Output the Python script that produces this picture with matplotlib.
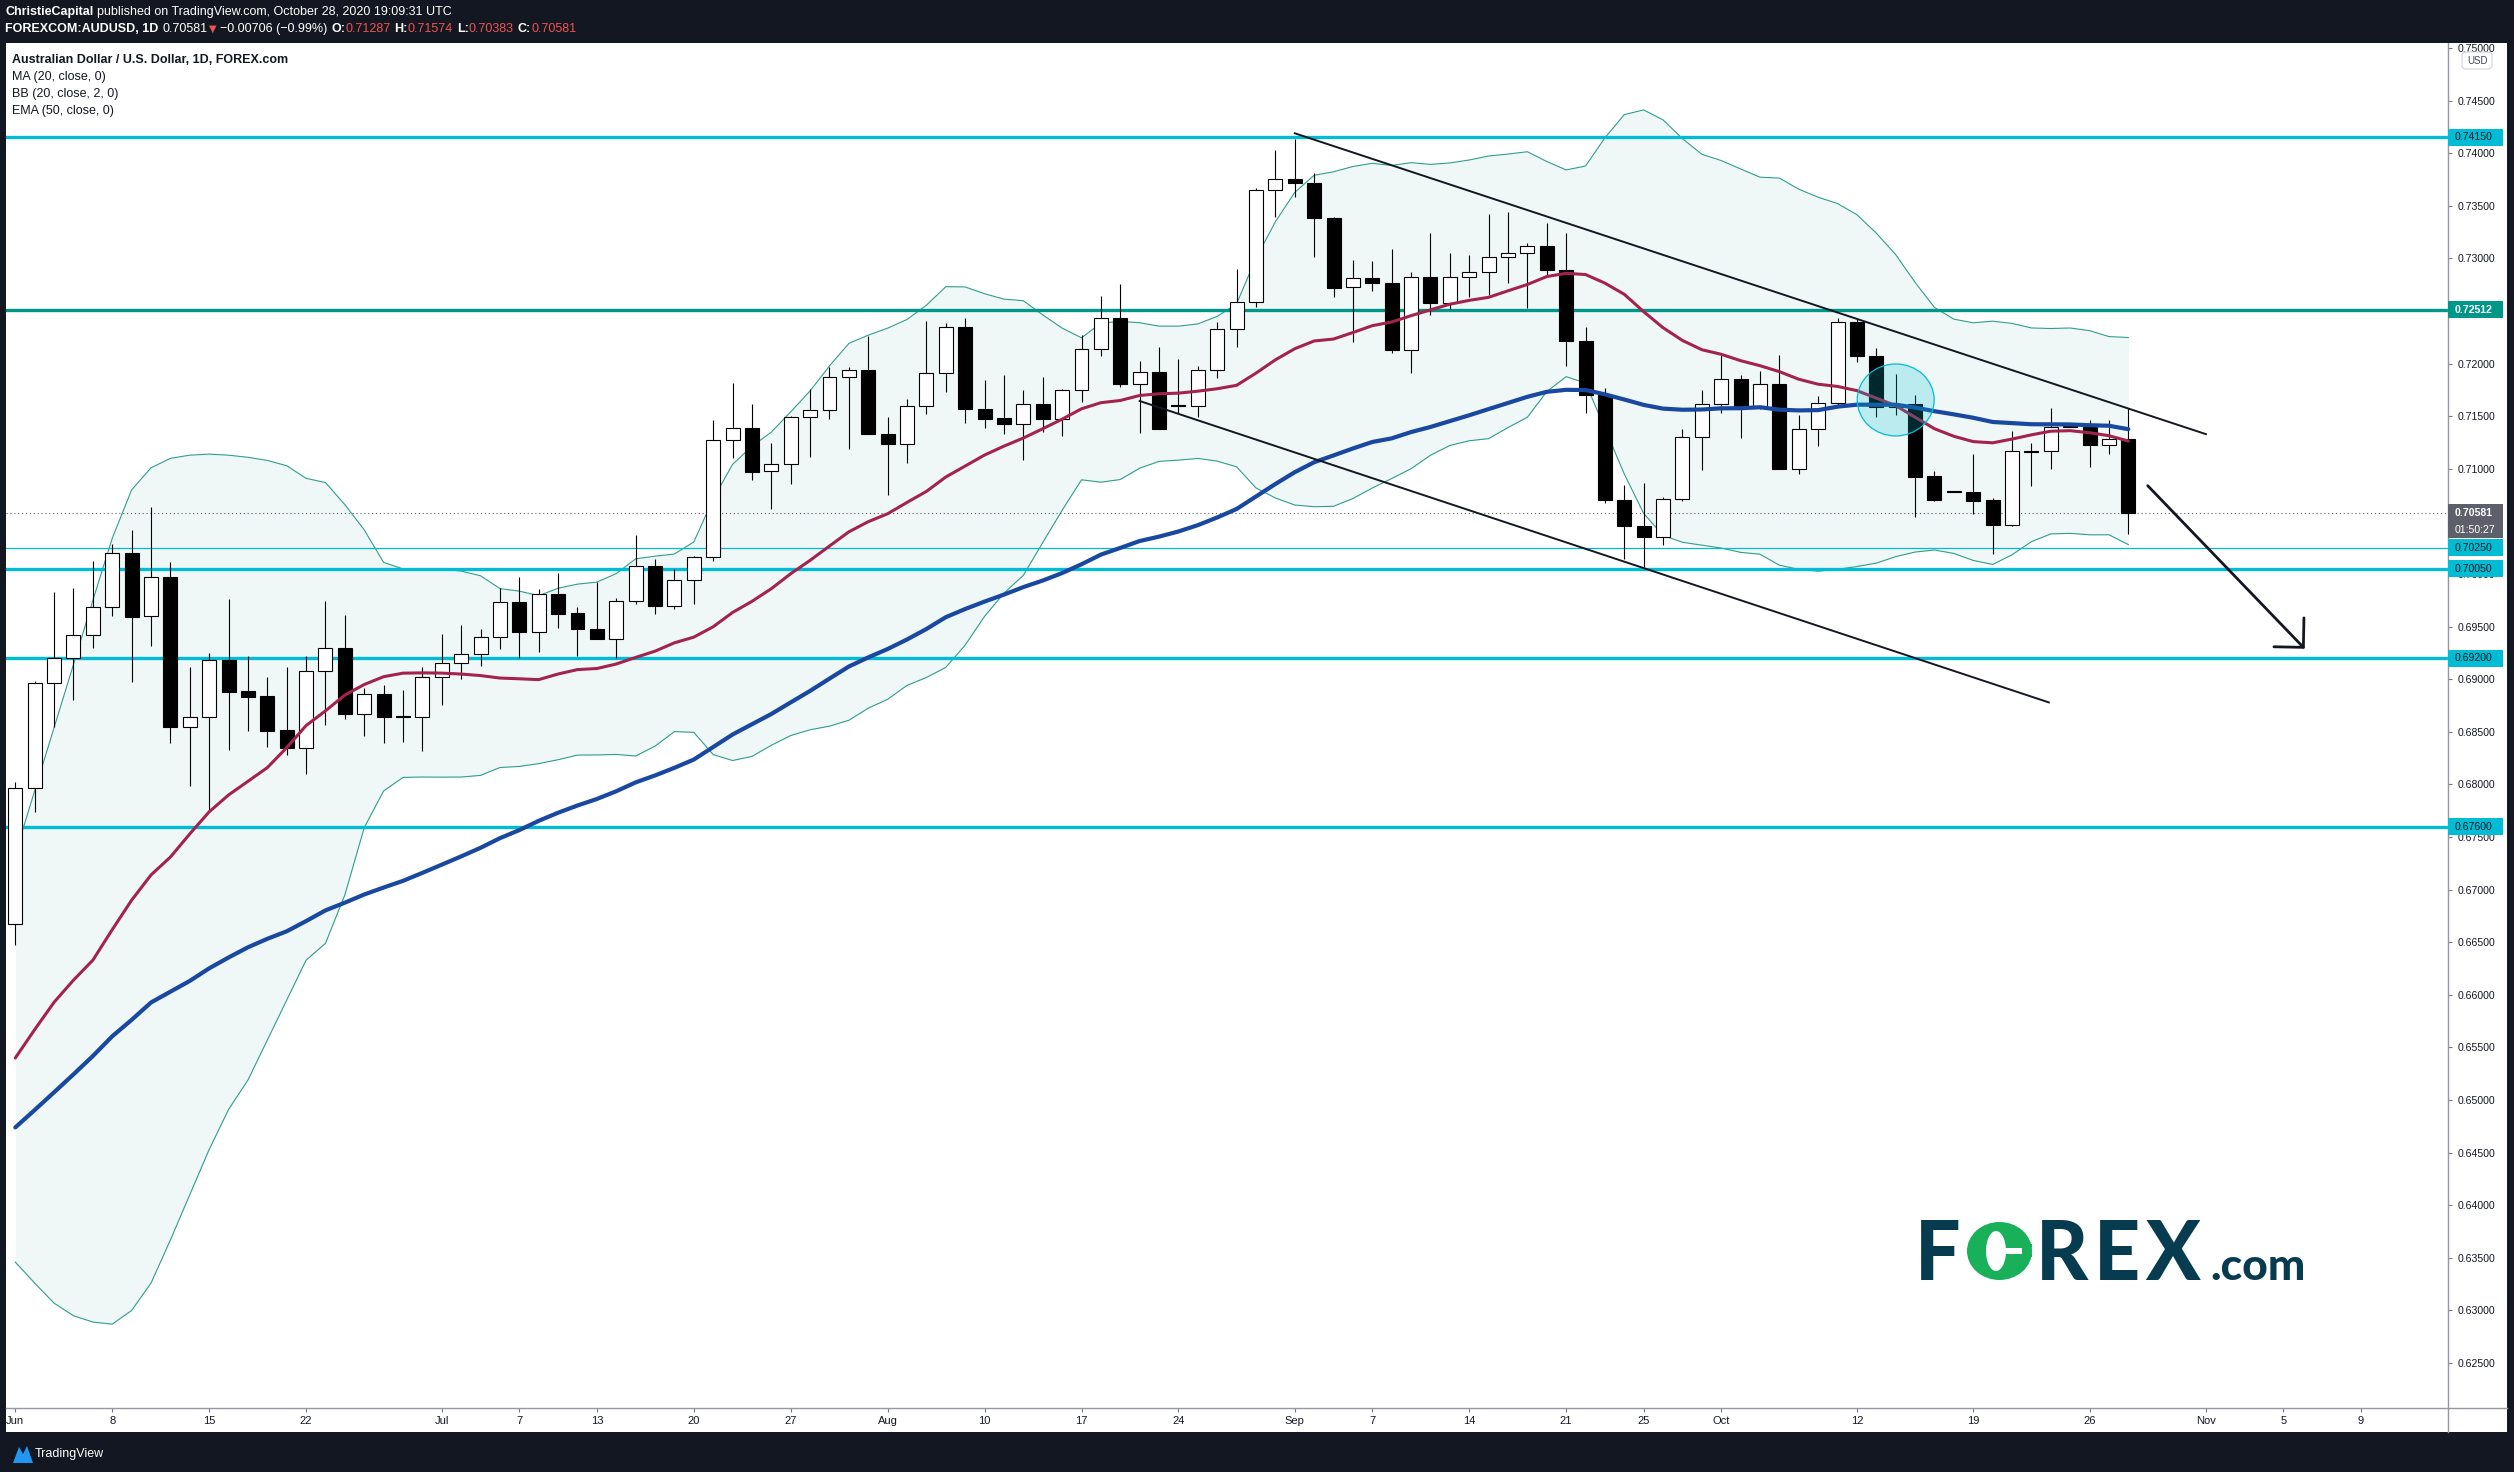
import matplotlib
matplotlib.use("Agg")
import matplotlib.pyplot as plt
from matplotlib import transforms
from matplotlib.patches import Rectangle, Ellipse, FancyBboxPatch, Polygon
from matplotlib.lines import Line2D
import numpy as np
import pandas as pd

W, H, DPI = 2514, 1472, 100
NARROW = ['Liberation Sans Narrow', 'DejaVu Sans Condensed', 'Liberation Sans', 'DejaVu Sans']
AXFONT = ['Liberation Sans', 'DejaVu Sans']
DARK = '#131722'

# ---------------- data (AUD/USD daily, Jun 1 - Oct 28 2020) ----------------
opens = [0.6667, 0.6797, 0.6896, 0.6920, 0.6942, 0.6969, 0.7020, 0.6960, 0.6997, 0.6855,
         0.6864, 0.6918, 0.6889, 0.6884, 0.6852, 0.6835, 0.6908, 0.6930, 0.6867, 0.6886,
         0.6865, 0.6864, 0.6902, 0.6915, 0.6924, 0.6940, 0.6973, 0.6945, 0.6981, 0.6963,
         0.6948, 0.6938, 0.6974, 0.7008, 0.6970, 0.6994, 0.7016, 0.7127, 0.7139, 0.7098,
         0.7105, 0.7149, 0.7156, 0.7187, 0.7194, 0.7133, 0.7124, 0.7160, 0.7191, 0.7235,
         0.7157, 0.7148, 0.7143, 0.7162, 0.7147, 0.7175, 0.7214, 0.7243, 0.7181, 0.7192,
         0.7161, 0.7160, 0.7194, 0.7233, 0.7259, 0.7365, 0.7376, 0.7372, 0.7338, 0.7273,
         0.7281, 0.7277, 0.7213, 0.7282, 0.7258, 0.7282, 0.7287, 0.7301, 0.7305, 0.7312,
         0.7289, 0.7222, 0.7170, 0.7070, 0.7046, 0.7035, 0.7071, 0.7130, 0.7162, 0.7185,
         0.7160, 0.7181, 0.7100, 0.7138, 0.7163, 0.7240, 0.7207, 0.7159, 0.7162, 0.7093,
         0.7079, 0.7078, 0.7070, 0.7047, 0.7117, 0.7117, 0.7141, 0.7140, 0.7123, 0.71287]
highs = [0.6802, 0.6898, 0.6983, 0.6987, 0.7012, 0.7029, 0.7042, 0.7064, 0.7011, 0.6912,
         0.6925, 0.6976, 0.6922, 0.6902, 0.6912, 0.6922, 0.6974, 0.6961, 0.6892, 0.6895,
         0.6890, 0.6912, 0.6943, 0.6952, 0.6948, 0.6987, 0.6997, 0.6986, 0.7001, 0.6969,
         0.6992, 0.6977, 0.7037, 0.7014, 0.7005, 0.7017, 0.7146, 0.7182, 0.7162, 0.7125,
         0.7150, 0.7176, 0.7197, 0.7197, 0.7226, 0.7149, 0.7166, 0.7241, 0.7239, 0.7243,
         0.7184, 0.7189, 0.7175, 0.7187, 0.7176, 0.7227, 0.7264, 0.7276, 0.7203, 0.7216,
         0.7204, 0.7198, 0.7240, 0.7290, 0.7367, 0.7403, 0.7414, 0.7381, 0.7339, 0.7299,
         0.7298, 0.7309, 0.7287, 0.7324, 0.7305, 0.7303, 0.7342, 0.7344, 0.7315, 0.7334,
         0.7324, 0.7235, 0.7177, 0.7085, 0.7087, 0.7073, 0.7138, 0.7175, 0.7208, 0.7189,
         0.7193, 0.7208, 0.7151, 0.7169, 0.7243, 0.7242, 0.7215, 0.7190, 0.7170, 0.7098,
         0.7079, 0.7114, 0.7072, 0.7136, 0.7125, 0.7158, 0.7141, 0.7146, 0.7146, 0.71574]
lows = [0.6647, 0.6774, 0.6855, 0.6880, 0.6930, 0.6960, 0.6897, 0.6932, 0.6839, 0.6799,
        0.6776, 0.6833, 0.6851, 0.6836, 0.6828, 0.6810, 0.6857, 0.6862, 0.6846, 0.6839,
        0.6840, 0.6832, 0.6876, 0.6900, 0.6913, 0.6929, 0.6920, 0.6926, 0.6949, 0.6922,
        0.6938, 0.6920, 0.6972, 0.6962, 0.6967, 0.6972, 0.7012, 0.7110, 0.7089, 0.7062,
        0.7086, 0.7111, 0.7147, 0.7119, 0.7133, 0.7075, 0.7106, 0.7152, 0.7173, 0.7144,
        0.7139, 0.7133, 0.7108, 0.7135, 0.7131, 0.7164, 0.7207, 0.7178, 0.7134, 0.7138,
        0.7153, 0.7149, 0.7186, 0.7216, 0.7254, 0.7339, 0.7358, 0.7301, 0.7263, 0.7221,
        0.7269, 0.7210, 0.7191, 0.7246, 0.7252, 0.7263, 0.7265, 0.7277, 0.7253, 0.7284,
        0.7198, 0.7153, 0.7068, 0.7014, 0.7007, 0.7028, 0.7069, 0.7099, 0.7153, 0.7129,
        0.7157, 0.7100, 0.7095, 0.7122, 0.7159, 0.7202, 0.7149, 0.7151, 0.7054, 0.7069,
        0.7078, 0.7057, 0.7019, 0.7046, 0.7084, 0.7100, 0.7140, 0.7102, 0.7114, 0.70383]
closes = [0.6797, 0.6896, 0.6920, 0.6942, 0.6969, 0.7020, 0.6959, 0.6997, 0.6855, 0.6864,
          0.6918, 0.6888, 0.6883, 0.6851, 0.6835, 0.6908, 0.6930, 0.6867, 0.6886, 0.6864,
          0.6864, 0.6902, 0.6915, 0.6924, 0.6940, 0.6973, 0.6945, 0.6981, 0.6962, 0.6948,
          0.6938, 0.6974, 0.7008, 0.6970, 0.6994, 0.7016, 0.7127, 0.7139, 0.7097, 0.7105,
          0.7149, 0.7156, 0.7187, 0.7194, 0.7133, 0.7124, 0.7160, 0.7191, 0.7235, 0.7157,
          0.7147, 0.7143, 0.7162, 0.7147, 0.7175, 0.7214, 0.7243, 0.7181, 0.7192, 0.7138,
          0.7160, 0.7194, 0.7233, 0.7259, 0.7365, 0.7376, 0.7372, 0.7338, 0.7272, 0.7281,
          0.7277, 0.7213, 0.7282, 0.7258, 0.7282, 0.7287, 0.7301, 0.7305, 0.7312, 0.7289,
          0.7222, 0.7170, 0.7070, 0.7046, 0.7035, 0.7071, 0.7130, 0.7162, 0.7185, 0.7160,
          0.7181, 0.7100, 0.7138, 0.7163, 0.7240, 0.7207, 0.7159, 0.7162, 0.7092, 0.7070,
          0.7078, 0.7069, 0.7047, 0.7117, 0.7116, 0.7140, 0.7140, 0.7123, 0.71287, 0.70581]

# indicator values for the first bars (history before Jun 1 not shown)
ma20_early = [0.6540, 0.6567, 0.6593, 0.6614, 0.6633, 0.6662, 0.6690, 0.6714, 0.6731, 0.6753,
              0.6774, 0.6790, 0.6803, 0.6816, 0.6835, 0.6856, 0.6870, 0.6885, 0.6895]
bb_upper_early = [0.6734, 0.6794, 0.6854, 0.6914, 0.6975, 0.7034, 0.7080, 0.7101, 0.7110, 0.7113,
                  0.7114, 0.7113, 0.7111, 0.7108, 0.7103, 0.7091, 0.7087, 0.7066, 0.7042]
bb_lower_early = [0.6346, 0.6326, 0.6307, 0.6295, 0.6289, 0.6287, 0.6300, 0.6326, 0.6367, 0.6410,
                  0.6453, 0.6491, 0.6519, 0.6557, 0.6595, 0.6633, 0.6649, 0.6695, 0.6759]
ema50_start = 0.6474

time_tick_pos = [0, 5, 10, 15, 22, 26, 30, 35, 40, 45, 50, 55, 60, 66, 70, 75, 80, 84, 88,
                 95, 101, 107, 113, 117, 121]
time_tick_labels = ['Jun', '8', '15', '22', 'Jul', '7', '13', '20', '27', 'Aug', '10', '17', '24',
                    'Sep', '7', '14', '21', '25', 'Oct', '12', '19', '26', 'Nov', '5', '9']
price_ticks = [0.625, 0.630, 0.635, 0.640, 0.645, 0.650, 0.655, 0.660, 0.665, 0.670, 0.675,
               0.680, 0.685, 0.690, 0.695, 0.700, 0.705, 0.710, 0.715, 0.720, 0.725, 0.730,
               0.735, 0.740, 0.745, 0.750]
price_tick_labels = ['%.5f' % v for v in price_ticks]

levels = [0.7415, 0.72512, 0.7025, 0.7005, 0.6920, 0.6760]
level_labels = ['0.74150', '0.72512', '0.70250', '0.70050', '0.69200', '0.67600']
last_price = 0.70581
countdown = '01:50:27'

upper_trend_x = [66.0, 113.0]
upper_trend_y = [0.7419, 0.7133]
lower_trend_x = [58.0, 104.9]
lower_trend_y = [0.71645, 0.6878]
arrow_x = [110.0, 118.1]
arrow_y = [0.7084, 0.6929]
circle_center = (97.0, 0.71655)

# ---------------- figure ----------------
fig = plt.figure(figsize=(W / DPI, H / DPI), dpi=DPI, facecolor=DARK)

def fr(x, y):
    return x / W, 1 - y / H

bg = fig.add_axes([6 / W, 1 - 1432 / H, (2507 - 6) / W, (1432 - 43) / H], zorder=0)
bg.set_facecolor('white')
bg.set_xticks([]); bg.set_yticks([])
for s in bg.spines.values():
    s.set_visible(False)

ax = fig.add_axes([6 / W, 1 - 1408 / H, (2448 - 6) / W, (1408 - 43) / H], zorder=1)
ax.set_facecolor('white')
n = len(closes)
x = np.arange(n)
o = np.array(opens); c = np.array(closes); hi = np.array(highs); lo = np.array(lows)

# indicators
cs = pd.Series(closes)
ma = cs.rolling(20).mean().to_numpy()
sd = cs.rolling(20).std(ddof=0).to_numpy()
upper = ma + 2 * sd
lower = ma - 2 * sd
ma[:19] = ma20_early
upper[:19] = bb_upper_early
lower[:19] = bb_lower_early
alpha = 2 / 51
ema = np.empty(n)
ema[0] = ema50_start
for i in range(1, n):
    ema[i] = alpha * closes[i] + (1 - alpha) * ema[i - 1]

ax.fill_between(x, lower, upper, color='#f0f7f7', lw=0, zorder=0.5)
ax.plot(x, upper, color='#2f9e8c', lw=0.8, zorder=1)
ax.plot(x, lower, color='#2f9e8c', lw=0.8, zorder=1)

lvl_colors = ['#00bcd4', '#009688', '#00bcd4', '#00bcd4', '#00bcd4', '#00bcd4']
lvl_widths = [2.4, 2.4, 0.9, 2.4, 2.4, 2.4]
for lv, col, lw in zip(levels, lvl_colors, lvl_widths):
    ax.axhline(lv, color=col, lw=lw, zorder=2)
ax.axhline(last_price, color='#5d606b', lw=0.8, ls=(0, (1, 2.5)), zorder=1.5)

# candles
up = c >= o
ax.vlines(x, lo, hi, color='black', lw=0.8, zorder=3)
ax.bar(x, np.abs(c - o), bottom=np.minimum(o, c), width=0.72,
       color=np.where(up, 'white', 'black'), edgecolor='black', linewidth=0.8, zorder=3.5)

ax.plot(x, ma, color='#a3234d', lw=2.2, zorder=4, solid_capstyle='round')
ax.plot(x, ema, color='#1848a0', lw=3.0, zorder=4.1, solid_capstyle='round')

ax.add_patch(Ellipse(circle_center, 3.97, 0.00684, facecolor=(0.0, 0.737, 0.831, 0.22),
                     edgecolor='#00bcd4', lw=0.9, zorder=5))
ax.plot(upper_trend_x, upper_trend_y, color=DARK, lw=1.4, zorder=6)
ax.plot(lower_trend_x, lower_trend_y, color=DARK, lw=1.4, zorder=6)
ax.annotate('', xy=(arrow_x[1], arrow_y[1]), xytext=(arrow_x[0], arrow_y[0]),
            arrowprops=dict(arrowstyle='->,head_length=0.5,head_width=0.5', color=DARK, lw=2,
                            mutation_scale=30, shrinkA=0, shrinkB=0), zorder=6)

ax.set_xlim(-0.48, 125.49)
ax.set_ylim(0.62073, 0.75048)
ax.yaxis.tick_right()
ax.set_yticks(price_ticks)
ax.set_yticklabels(price_tick_labels, fontfamily=AXFONT, fontsize=7.6, color=DARK)
ax.tick_params(axis='y', direction='out', length=3, width=0.8, color='#787b86', pad=4)
ax.set_xticks(time_tick_pos)
ax.set_xticklabels(time_tick_labels, fontfamily=NARROW, fontsize=8, color=DARK)
ax.tick_params(axis='x', direction='out', length=3, width=0.8, color='#787b86', pad=3)
for side in ['top', 'left']:
    ax.spines[side].set_visible(False)
for side in ['right', 'bottom']:
    ax.spines[side].set_color('#9598a1')
    ax.spines[side].set_linewidth(1)

# price-axis label boxes
blend = transforms.blended_transform_factory(ax.transAxes, ax.transData)
axw = 2448 - 6
bw = 55 / axw
bh = 17 * (0.75048 - 0.62073) / (1408 - 43)

def price_box(yc, text, face, tcolor, weight='normal'):
    ax.add_patch(Rectangle((1.0, yc - bh / 2), bw, bh, transform=blend, facecolor=face,
                           edgecolor='none', clip_on=False, zorder=20))
    ax.text(1.0 + 7 / axw, yc, text, transform=blend, color=tcolor, fontsize=7.6,
            fontfamily=AXFONT, fontweight=weight, va='center', ha='left', clip_on=False, zorder=21)

for lv, lab, col in zip(levels, level_labels, lvl_colors):
    if col == '#009688':
        price_box(lv, lab, col, 'white', 'bold')
    else:
        price_box(lv, lab, col, DARK)
price_box(last_price, '%.5f' % last_price, '#5d606b', 'white', 'bold')
price_box(last_price - bh, countdown, '#5d606b', 'white')

# extra separators
fig.add_artist(Line2D([2448 / W, 2448 / W], [1 - 1408 / H, 1 - 1432 / H], color='#9598a1', lw=1, zorder=2))
fig.add_artist(Line2D([2448 / W, 2507 / W], [1 - 1408 / H, 1 - 1408 / H], color='#9598a1', lw=1, zorder=2))

# USD box
fig.add_artist(FancyBboxPatch((2462 / W, 1 - 69 / H), 30 / W, 17 / H,
                              boxstyle='round,pad=0,rounding_size=0.002', transform=fig.transFigure,
                              facecolor='white', edgecolor='#d1d4dc', lw=0.8, zorder=8))
fig.text(2477 / W, 1 - 60.5 / H, 'USD', fontsize=7, family=AXFONT, color='#434651',
         ha='center', va='center', zorder=9)

# header
fig.add_artist(Rectangle((0, 1 - 43 / H), 1, 43 / H, transform=fig.transFigure,
                         facecolor=DARK, edgecolor='none', zorder=10))
renderer = fig.canvas.get_renderer()

def seq_text(x0, y, parts, size):
    xx = x0
    for s, col, wt, fam, sz, gap in parts:
        t = fig.text(xx / W, 1 - y / H, s, color=col, fontsize=sz or size, fontweight=wt,
                     family=fam or NARROW, va='center', ha='left', zorder=11)
        bb = t.get_window_extent(renderer)
        xx = bb.x1 + gap

RED = '#ef5350'
SP = 4
seq_text(5, 12, [('ChristieCapital', 'white', 'bold', None, None, SP),
                 ('published on TradingView.com, October 28, 2020 19:09:31 UTC', 'white', 'normal', None, None, 0)], 9)
seq_text(5, 29, [('FOREXCOM:AUDUSD, 1D', 'white', 'bold', None, None, SP),
                 ('0.70581', 'white', 'normal', None, None, 1),
                 ('\u25BC', RED, 'normal', ['DejaVu Sans'], 7, SP),
                 ('\u22120.00706 (\u22120.99%)', 'white', 'normal', None, None, SP),
                 ('O:', 'white', 'bold', None, None, 0),
                 ('0.71287', RED, 'normal', None, None, SP),
                 ('H:', 'white', 'bold', None, None, 0),
                 ('0.71574', RED, 'normal', None, None, SP),
                 ('L:', 'white', 'bold', None, None, 0),
                 ('0.70383', RED, 'normal', None, None, SP),
                 ('C:', 'white', 'bold', None, None, 0),
                 ('0.70581', RED, 'normal', None, None, 0)], 9)

# legend inside chart
fig.text(12 / W, 1 - 60 / H, 'Australian Dollar / U.S. Dollar, 1D, FOREX.com', fontsize=9,
         fontweight='bold', family=NARROW, color=DARK, va='center', ha='left', zorder=12)
for yy, s in zip([77, 94, 111], ['MA (20, close, 0)', 'BB (20, close, 2, 0)', 'EMA (50, close, 0)']):
    fig.text(12 / W, 1 - yy / H, s, fontsize=9, family=NARROW, color=DARK,
             va='center', ha='left', zorder=12)

# TradingView footer
fig.add_artist(Polygon([fr(13, 1463), fr(19, 1447), fr(23, 1454), fr(27, 1446), fr(33, 1463)],
                       closed=True, transform=fig.transFigure, facecolor='#2196f3',
                       edgecolor='none', zorder=12))
fig.text(35 / W, 1 - 1454 / H, 'TradingView', fontsize=9, family=NARROW, color='white',
         va='center', ha='left', zorder=12)

# FOREX.com logo
NAVY = '#073b4f'
GREEN = '#18b15a'
LOGO = ['Lato', 'Roboto', 'DejaVu Sans']
base = 1 - 1280 / H
for s, xx, col in [('F', 1915, NAVY), ('R', 2036, NAVY), ('E', 2094, NAVY), ('X', 2145, NAVY)]:
    fig.text(xx / W, base, s, fontsize=58, fontweight='black', family=LOGO, color=col,
             va='baseline', ha='left', zorder=12)
fig.text(2210 / W, base, '.com', fontsize=32, fontweight='black', family=LOGO, color=NAVY,
         va='baseline', ha='left', zorder=12)
px_tr = transforms.IdentityTransform()
fig.add_artist(Ellipse((1999.5, H - 1251), 65, 58, transform=px_tr, facecolor=GREEN,
                       edgecolor='none', zorder=12))
fig.add_artist(Ellipse((1996, H - 1251), 20, 40, transform=px_tr, facecolor='white',
                       edgecolor='none', zorder=13))
fig.add_artist(Rectangle((1996, H - 1254), 26, 6, transform=px_tr, facecolor='white',
                         edgecolor='none', zorder=13))
fig.add_artist(Rectangle((2020, H - 1247), 12, 3, transform=px_tr, facecolor=GREEN,
                         edgecolor='none', zorder=13))
fig.add_artist(Rectangle((2020, H - 1257), 12, 3, transform=px_tr, facecolor=GREEN,
                         edgecolor='none', zorder=13))

fig.savefig('out.png', dpi=DPI, facecolor=DARK)
